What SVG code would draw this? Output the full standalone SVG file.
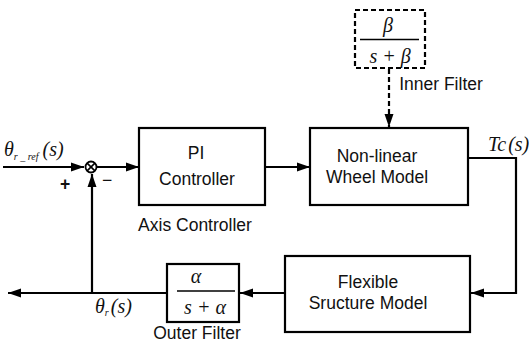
<svg xmlns="http://www.w3.org/2000/svg" width="529" height="343" viewBox="0 0 529 343">
<style>
.box{fill:#fff;stroke:#000;stroke-width:2.2}
.ln{fill:none;stroke:#000;stroke-width:2.2}
.dash{fill:none;stroke:#000;stroke-width:2.2;stroke-dasharray:5 3}
.t{font-family:"Liberation Sans",Arial,sans-serif;font-size:17.5px;fill:#111;text-anchor:middle}
.m{font-family:"Liberation Serif","Times New Roman",serif;font-style:italic;font-size:20px;fill:#111}
.mc{text-anchor:middle}
.sub{font-size:10px}
</style>
<defs>
<marker id="ah" markerUnits="userSpaceOnUse" markerWidth="14" markerHeight="10" refX="13" refY="5" orient="auto">
<path d="M0,0.5 L13,5 L0,9.5 Z" fill="#000"/>
</marker>
</defs>
<g id="connectors">
<line class="ln" x1="3" y1="167" x2="84" y2="167" marker-end="url(#ah)"/>
<line class="ln" x1="97" y1="167" x2="139" y2="167" marker-end="url(#ah)"/>
<line class="ln" x1="265" y1="167" x2="310" y2="167" marker-end="url(#ah)"/>
<polyline class="ln" points="468,158 516,158 516,293 471,293" marker-end="url(#ah)"/>
<line class="ln" x1="285" y1="293" x2="240" y2="293" marker-end="url(#ah)"/>
<line class="ln" x1="167" y1="293" x2="8" y2="293" marker-end="url(#ah)"/>
<line class="ln" x1="92" y1="293" x2="92" y2="174" marker-end="url(#ah)"/>
<line class="dash" x1="389" y1="69" x2="389" y2="127" marker-end="url(#ah)"/>
</g>
<g id="sum">
<circle cx="91" cy="167" r="5.5" fill="#fff" stroke="#000" stroke-width="1.8"/>
<path d="M87.1,163.1 L94.9,170.9 M94.9,163.1 L87.1,170.9" stroke="#000" stroke-width="1.6"/>
<text class="t" x="65" y="190" font-size="19" font-weight="bold">+</text>
<text class="t" x="107" y="186" font-size="18">−</text>
</g>
<g id="pi">
<rect class="box" x="139" y="128" width="126" height="77"/>
<text class="t" x="196" y="159">PI</text>
<text class="t" x="197" y="185">Controller</text>
<text class="t" x="195" y="231">Axis Controller</text>
</g>
<g id="wheel">
<rect class="box" x="310" y="128" width="158" height="77"/>
<text class="t" x="377" y="162">Non-linear</text>
<text class="t" x="377" y="183">Wheel Model</text>
</g>
<g id="inner">
<rect class="dash" x="355" y="10" width="70" height="58"/>
<text class="m mc" x="388" y="32">β</text>
<line x1="360" y1="39.5" x2="419" y2="39.5" stroke="#000" stroke-width="1.3"/>
<text class="m mc" x="390" y="63">s + β</text>
<text class="t" x="441" y="90">Inner Filter</text>
</g>
<g id="flex">
<rect class="box" x="285" y="256" width="185" height="76"/>
<text class="t" x="368" y="288">Flexible</text>
<text class="t" x="368" y="309">Sructure Model</text>
</g>
<g id="outer">
<rect class="box" x="167" y="264" width="72" height="58"/>
<text class="m mc" x="196" y="283">α</text>
<line x1="177" y1="291" x2="235" y2="291" stroke="#000" stroke-width="1.3"/>
<text class="m mc" x="205" y="314">s + α</text>
<text class="t" x="197" y="339">Outer Filter</text>
</g>
<g id="labels">
<text class="m" x="4" y="156">θ<tspan class="sub" dy="4">r _ ref</tspan><tspan dy="-4" dx="4">(s)</tspan></text>
<text class="m" x="488" y="151">Tc<tspan dx="2">(s)</tspan></text>
<text class="m" x="95" y="313">θ<tspan class="sub" dy="3">r</tspan><tspan dy="-3" dx="2">(s)</tspan></text>
</g>
</svg>
